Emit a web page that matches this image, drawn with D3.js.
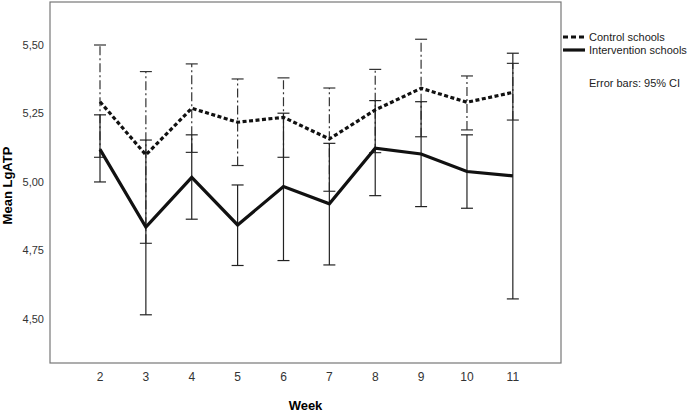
<!DOCTYPE html>
<html><head><meta charset="utf-8">
<script src="https://cdn.jsdelivr.net/npm/d3@7/dist/d3.min.js"></script>
<style>body{margin:0;background:#fff}svg{display:block;font-family:Arial,"Liberation Sans",sans-serif}</style>
</head><body><svg id="c" width="692" height="413"></svg>
<script>
const weeks = [2,3,4,5,6,7,8,9,10,11];
const controlMean = [5.293,5.099,5.269,5.218,5.236,5.157,5.263,5.342,5.291,5.327];
const controlLow  = [5.090,4.776,5.108,5.060,5.090,4.966,5.107,5.165,5.190,5.226];
const controlHigh = [5.500,5.403,5.431,5.376,5.380,5.343,5.411,5.521,5.387,5.433];
const interMean = [5.119,4.835,5.017,4.843,4.983,4.920,5.123,5.102,5.038,5.022];
const interLow  = [5.000,4.515,4.864,4.695,4.713,4.697,4.950,4.910,4.904,4.573];
const interHigh = [5.245,5.153,5.172,4.989,5.251,5.141,5.297,5.293,5.172,5.470];
const yTicks = [4.50,4.75,5.00,5.25,5.50];
const seriesNames = ["Control schools","Intervention schools"];

const svg = d3.select("#c");
const L=50,R=561,T=2,B=363;
const x = d3.scaleLinear().domain([0.91,12.05]).range([L,R]);
const y = d3.scaleLinear().domain([4.339,5.657]).range([B,T]);

svg.append("rect").attr("x",L).attr("y",T).attr("width",R-L).attr("height",B-T)
  .attr("fill","none").attr("stroke","#777").attr("stroke-width",1.2);

// y tick labels
const fmt = d => d.toFixed(2).replace(".",",");
svg.append("g").selectAll("text").data(yTicks).join("text")
  .attr("x",L-6).attr("y",d=>y(d)).attr("dy","0.35em").attr("text-anchor","end")
  .attr("font-size",11).attr("fill","#333").text(fmt);
// x tick labels
svg.append("g").selectAll("text").data(weeks).join("text")
  .attr("x",d=>x(d)).attr("y",381).attr("text-anchor","middle")
  .attr("font-size",12).attr("fill","#333").text(d=>d);

svg.append("text").attr("x",(L+R)/2).attr("y",410).attr("text-anchor","middle")
  .attr("font-size",13).attr("font-weight","bold").text("Week");
svg.append("text").attr("transform",`translate(12,${(T+B)/2+3}) rotate(-90)`)
  .attr("text-anchor","middle").attr("font-size",13).attr("font-weight","bold").text("Mean LgATP");

function errBars(means,low,high,dash,color){
  const g = svg.append("g").attr("stroke",color).attr("stroke-width",1.2).attr("fill","none");
  weeks.forEach((w,i)=>{
    const cx = x(w);
    g.append("line").attr("x1",cx).attr("x2",cx).attr("y1",y(low[i])).attr("y2",y(high[i]))
      .attr("stroke-dasharray",dash);
    [low[i],high[i]].forEach(v=>{
      g.append("line").attr("x1",cx-6).attr("x2",cx+6).attr("y1",y(v)).attr("y2",y(v));
    });
  });
}
errBars(controlMean,controlLow,controlHigh,"9,3,2,3","#333");
errBars(interMean,interLow,interHigh,null,"#222");

const line = d3.line().x((d,i)=>x(weeks[i])).y(d=>y(d));
svg.append("path").datum(controlMean).attr("d",line).attr("fill","none")
  .attr("stroke","#111").attr("stroke-width",3.2).attr("stroke-dasharray","4,2.5");
svg.append("path").datum(interMean).attr("d",line).attr("fill","none")
  .attr("stroke","#111").attr("stroke-width",3.2);

// legend
const lg = svg.append("g");
lg.append("line").attr("x1",563).attr("x2",585).attr("y1",37).attr("y2",37)
  .attr("stroke","#111").attr("stroke-width",3.2).attr("stroke-dasharray","5,3");
lg.append("line").attr("x1",563).attr("x2",585).attr("y1",50).attr("y2",50)
  .attr("stroke","#111").attr("stroke-width",3.2);
lg.append("text").attr("x",589).attr("y",37).attr("dy","0.35em").attr("font-size",11).attr("fill","#222").text(seriesNames[0]);
lg.append("text").attr("x",589).attr("y",50).attr("dy","0.35em").attr("font-size",11).attr("fill","#222").text(seriesNames[1]);
lg.append("text").attr("x",589).attr("y",83).attr("dy","0.35em").attr("font-size",11).attr("fill","#222").text("Error bars: 95% CI");
</script></body></html>
